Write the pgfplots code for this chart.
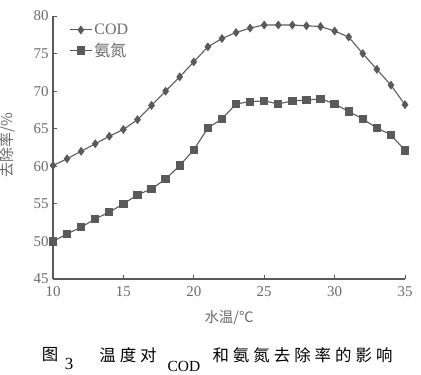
\documentclass[border=0pt]{standalone}
\usepackage{pgfplots}
\pgfplotsset{compat=1.18}
\usepackage{fontspec}
\setmainfont{Liberation Serif}
\newfontfamily\cjk{Noto Sans CJK SC}
\definecolor{lc}{HTML}{5A5A5A}
\definecolor{tc}{HTML}{6A6A6A}
\begin{document}
\begin{tikzpicture}
\useasboundingbox (-53bp,-96bp) rectangle (368bp,279bp);
\begin{axis}[
  at={(0,0)}, anchor=south west, scale only axis,
  width=352bp, height=263bp,
  xmin=10, xmax=35, ymin=45, ymax=80,
  xtick={10,15,...,35}, ytick={45,50,...,80},
  axis x line*=bottom, axis y line*=left,
  axis line style={-, lc, line width=1.1pt},
  tick style={lc, line width=1pt},
  major tick length=4bp,
  tick align=inside,
  /pgf/number format/assume math mode=true,
  tick label style={font=\rmfamily\fontsize{15}{15}\selectfont, text=tc},
  xticklabel style={yshift=-4bp},
  yticklabel style={xshift=-1bp},
  every axis x label/.style={at={(axis description cs:0.5,-0.148)}, anchor=center},
  every axis y label/.style={at={(axis description cs:-0.128,0.51)}, anchor=center, rotate=90},
  xlabel={\cjk\fontsize{14.5}{15}\selectfont\color{tc}水温/℃},
  ylabel={\cjk\fontsize{15}{15}\selectfont\color{tc}去除率/\%},
  legend style={at={(axis description cs:0.043,0.982)}, anchor=north west, draw=none, fill=none,
    font=\rmfamily\fontsize{16}{18}\selectfont, text=tc, row sep=3bp, inner sep=1bp},
  legend image code/.code={
    \draw[#1, mark repeat=2, mark phase=2] plot coordinates {(0bp,0bp) (11bp,0bp) (22bp,0bp)};},
  legend cell align=left,
]
\addplot[lc, line width=1.1pt, mark=diamond*, mark size=3.6bp, mark options={fill=lc, draw=lc}]
coordinates {
(10,60.1)(11,61.0)(12,62.0)(13,63.0)(14,64.0)(15,64.9)(16,66.2)(17,68.1)(18,70.0)(19,71.9)(20,73.9)
(21,75.9)(22,77.0)(23,77.8)(24,78.4)(25,78.8)(26,78.8)(27,78.8)(28,78.7)(29,78.6)(30,78.0)
(31,77.2)(32,75.0)(33,72.9)(34,70.8)(35,68.2)};
\addlegendentry{COD}
\addplot[lc, line width=1.1pt, mark=square*, mark size=3.6bp, mark options={fill=lc, draw=lc}]
coordinates {
(10,50.0)(11,51.0)(12,51.9)(13,53.0)(14,53.9)(15,55.0)(16,56.2)(17,57.0)(18,58.3)(19,60.1)(20,62.2)
(21,65.1)(22,66.3)(23,68.3)(24,68.6)(25,68.7)(26,68.3)(27,68.7)(28,68.8)(29,69.0)(30,68.3)
(31,67.3)(32,66.3)(33,65.1)(34,64.2)(35,62.1)};
\addlegendentry{\cjk 氨氮}
\end{axis}
\node[anchor=center, font=\cjk\fontsize{16.5}{17}\selectfont] at (-3bp,-76bp) {图};
\node[anchor=center, font=\rmfamily\fontsize{17}{17}\selectfont] at (16bp,-85bp) {3};
\node[anchor=center, font=\cjk\fontsize{16.5}{17}\selectfont] at (75bp,-76bp) {温\hspace{4bp}度\hspace{4bp}对};
\node[anchor=center, font=\rmfamily\fontsize{15.5}{16}\selectfont, inner sep=1bp] at (131bp,-87bp) {COD};
\node[anchor=center, font=\cjk\fontsize{16.5}{17}\selectfont] at (249.5bp,-76bp) {和\hspace{4bp}氨\hspace{4bp}氮\hspace{4bp}去\hspace{4bp}除\hspace{4bp}率\hspace{4bp}的\hspace{4bp}影\hspace{4bp}响};
\end{tikzpicture}
\end{document}
